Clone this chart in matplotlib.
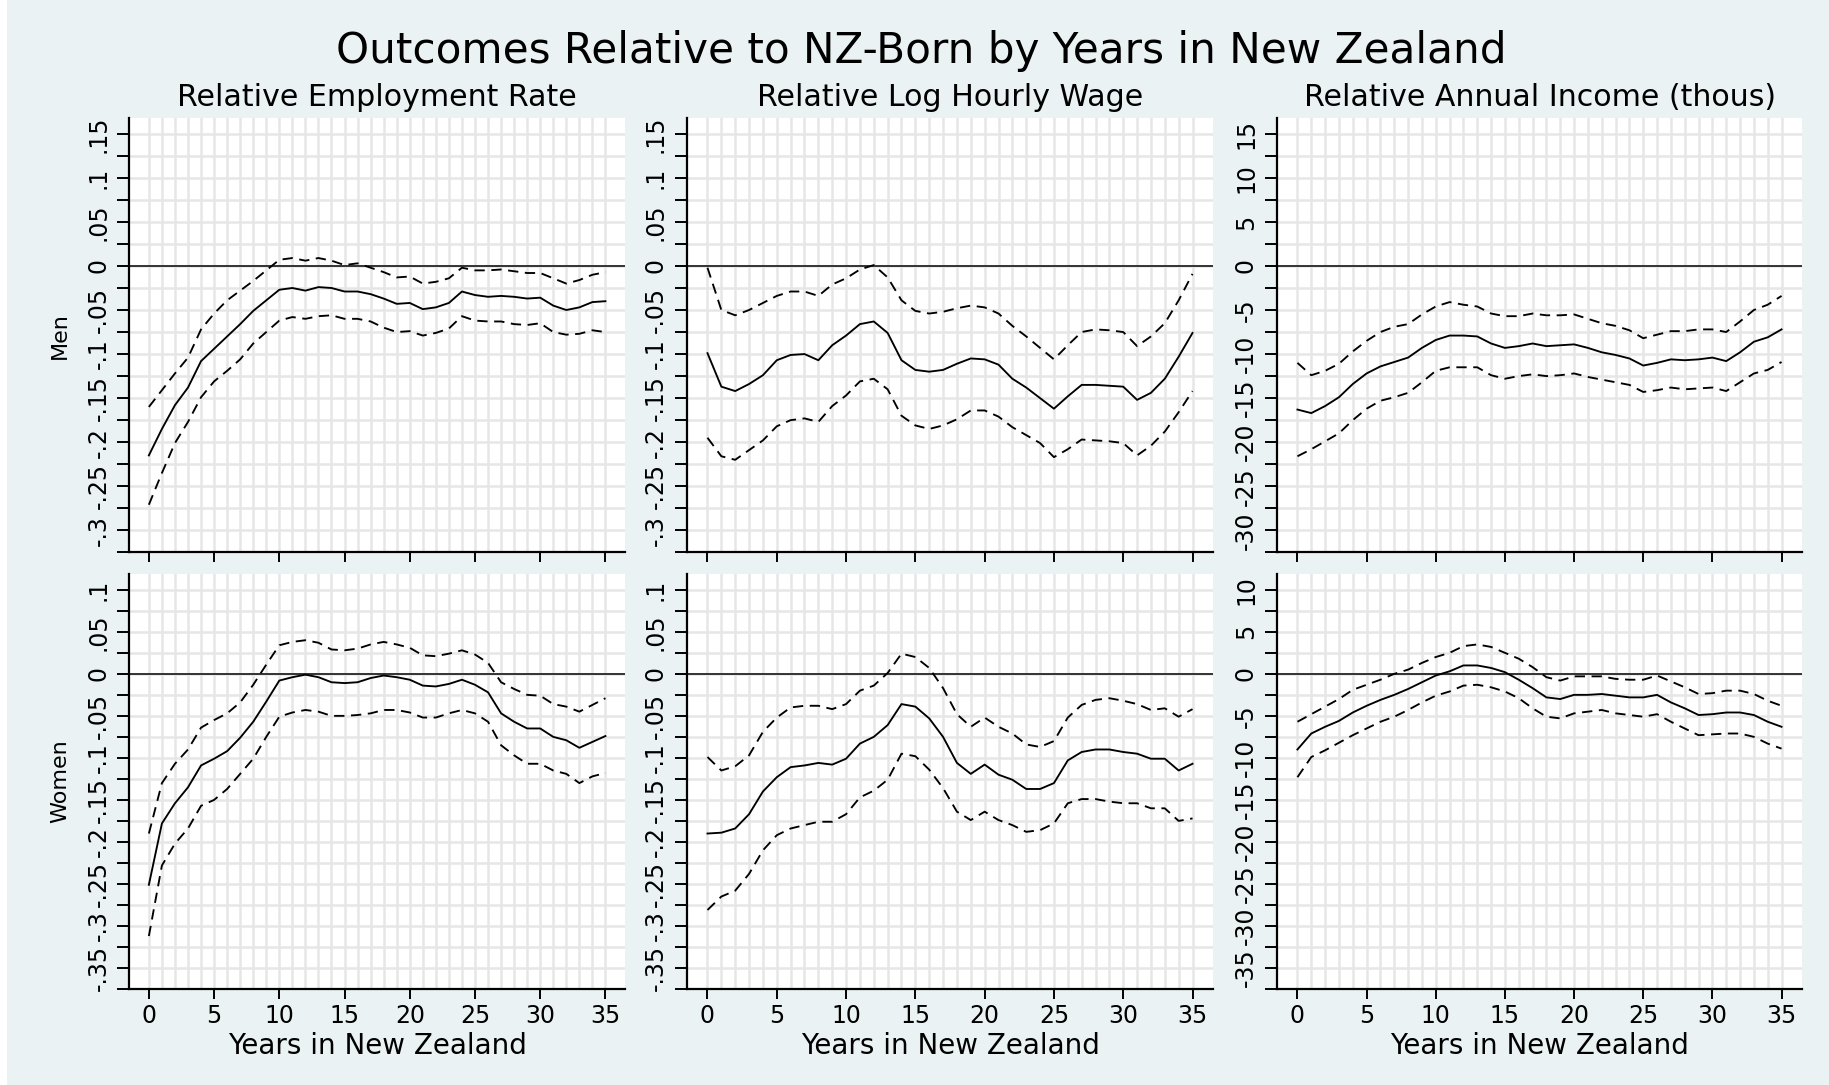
import matplotlib
matplotlib.use("Agg")
import matplotlib.pyplot as plt
from matplotlib.patches import Rectangle
import numpy as np

# ---------------- data ----------------
years = list(range(36))

men_emp = [-0.215, -0.185, -0.158, -0.138, -0.108, -0.094, -0.080, -0.066, -0.051, -0.039,
           -0.027, -0.025, -0.028, -0.024, -0.025, -0.029, -0.029, -0.032, -0.037, -0.043,
           -0.042, -0.049, -0.047, -0.042, -0.029, -0.033, -0.035, -0.034, -0.035, -0.037,
           -0.036, -0.045, -0.050, -0.047, -0.041, -0.040]
men_emp_hi = [-0.160, -0.141, -0.122, -0.104, -0.072, -0.054, -0.039, -0.028, -0.017, -0.005,
              0.007, 0.009, 0.006, 0.009, 0.006, 0.001, 0.003, -0.002, -0.007, -0.013,
              -0.012, -0.020, -0.018, -0.014, -0.002, -0.005, -0.005, -0.004, -0.006, -0.008,
              -0.008, -0.014, -0.020, -0.016, -0.010, -0.007]
men_emp_lo = [-0.271, -0.235, -0.201, -0.177, -0.149, -0.131, -0.119, -0.106, -0.088, -0.075,
              -0.062, -0.058, -0.060, -0.057, -0.056, -0.060, -0.060, -0.063, -0.070, -0.075,
              -0.074, -0.079, -0.076, -0.071, -0.057, -0.062, -0.063, -0.063, -0.066, -0.067,
              -0.065, -0.075, -0.078, -0.077, -0.073, -0.075]

men_wage = [-0.099, -0.137, -0.142, -0.134, -0.124, -0.107, -0.101, -0.100, -0.107, -0.090,
            -0.079, -0.066, -0.063, -0.076, -0.107, -0.118, -0.120, -0.118, -0.111, -0.105,
            -0.106, -0.112, -0.128, -0.138, -0.150, -0.162, -0.148, -0.135, -0.135, -0.136,
            -0.137, -0.152, -0.144, -0.128, -0.103, -0.076]
men_wage_hi = [-0.002, -0.050, -0.056, -0.050, -0.042, -0.034, -0.029, -0.029, -0.034, -0.021,
               -0.014, -0.004, 0.001, -0.013, -0.039, -0.051, -0.054, -0.052, -0.048, -0.045,
               -0.047, -0.054, -0.068, -0.080, -0.093, -0.106, -0.090, -0.075, -0.072, -0.073,
               -0.075, -0.091, -0.080, -0.065, -0.039, -0.009]
men_wage_lo = [-0.195, -0.216, -0.220, -0.209, -0.198, -0.182, -0.175, -0.173, -0.177, -0.159,
               -0.147, -0.131, -0.128, -0.140, -0.170, -0.181, -0.185, -0.181, -0.174, -0.164,
               -0.164, -0.171, -0.183, -0.192, -0.201, -0.217, -0.208, -0.197, -0.198, -0.199,
               -0.201, -0.215, -0.204, -0.188, -0.166, -0.142]

men_inc = [-16.3, -16.7, -15.9, -14.9, -13.4, -12.2, -11.4, -10.9, -10.4, -9.3,
           -8.4, -7.9, -7.9, -8.0, -8.8, -9.3, -9.1, -8.8, -9.1, -9.0,
           -8.9, -9.3, -9.8, -10.1, -10.5, -11.3, -11.0, -10.6, -10.7, -10.6,
           -10.4, -10.8, -9.8, -8.6, -8.1, -7.2]
men_inc_hi = [-11.0, -12.4, -11.9, -11.1, -9.7, -8.5, -7.5, -6.9, -6.6, -5.5,
              -4.6, -4.1, -4.4, -4.6, -5.4, -5.7, -5.7, -5.4, -5.6, -5.6,
              -5.5, -6.0, -6.5, -6.8, -7.3, -8.2, -7.8, -7.4, -7.4, -7.2,
              -7.2, -7.5, -6.3, -5.0, -4.4, -3.4]
men_inc_lo = [-21.6, -20.8, -19.9, -19.0, -17.5, -16.2, -15.3, -14.9, -14.4, -13.2,
              -11.9, -11.5, -11.5, -11.5, -12.4, -12.8, -12.5, -12.3, -12.5, -12.4,
              -12.2, -12.6, -12.9, -13.2, -13.5, -14.3, -14.1, -13.8, -14.0, -13.9,
              -13.8, -14.2, -13.2, -12.2, -11.8, -10.9]

wom_emp = [-0.251, -0.178, -0.154, -0.135, -0.109, -0.101, -0.092, -0.076, -0.057, -0.033,
           -0.008, -0.004, -0.001, -0.004, -0.010, -0.011, -0.010, -0.005, -0.002, -0.004,
           -0.007, -0.014, -0.015, -0.012, -0.007, -0.013, -0.022, -0.047, -0.057, -0.065,
           -0.065, -0.075, -0.079, -0.088, -0.081, -0.074]
wom_emp_hi = [-0.190, -0.130, -0.107, -0.090, -0.064, -0.055, -0.047, -0.034, -0.013, 0.011,
              0.034, 0.038, 0.040, 0.037, 0.029, 0.028, 0.030, 0.035, 0.038, 0.035,
              0.031, 0.022, 0.021, 0.024, 0.028, 0.023, 0.013, -0.010, -0.018, -0.025,
              -0.026, -0.036, -0.039, -0.045, -0.037, -0.029]
wom_emp_lo = [-0.312, -0.228, -0.202, -0.184, -0.157, -0.150, -0.137, -0.119, -0.101, -0.075,
              -0.051, -0.046, -0.043, -0.045, -0.050, -0.050, -0.049, -0.047, -0.043, -0.043,
              -0.046, -0.052, -0.052, -0.047, -0.043, -0.047, -0.057, -0.085, -0.097, -0.107,
              -0.107, -0.115, -0.119, -0.130, -0.122, -0.118]

wom_wage = [-0.190, -0.189, -0.184, -0.167, -0.140, -0.123, -0.111, -0.109, -0.106, -0.108,
            -0.101, -0.083, -0.075, -0.061, -0.036, -0.039, -0.053, -0.075, -0.106, -0.119,
            -0.108, -0.120, -0.126, -0.137, -0.137, -0.130, -0.103, -0.093, -0.090, -0.090,
            -0.093, -0.095, -0.101, -0.101, -0.115, -0.107]
wom_wage_hi = [-0.099, -0.115, -0.110, -0.097, -0.069, -0.052, -0.040, -0.038, -0.038, -0.042,
               -0.036, -0.020, -0.014, 0.001, 0.024, 0.020, 0.007, -0.017, -0.048, -0.063,
               -0.052, -0.063, -0.071, -0.084, -0.087, -0.080, -0.052, -0.037, -0.031, -0.029,
               -0.032, -0.036, -0.043, -0.041, -0.051, -0.042]
wom_wage_lo = [-0.281, -0.265, -0.258, -0.238, -0.210, -0.192, -0.184, -0.180, -0.176, -0.176,
               -0.167, -0.147, -0.139, -0.126, -0.095, -0.098, -0.114, -0.136, -0.164, -0.174,
               -0.164, -0.174, -0.180, -0.188, -0.186, -0.178, -0.154, -0.149, -0.149, -0.152,
               -0.154, -0.154, -0.160, -0.160, -0.175, -0.172]

wom_inc = [-9.0, -7.1, -6.3, -5.6, -4.6, -3.8, -3.1, -2.5, -1.8, -1.0,
           -0.2, 0.3, 1.0, 1.0, 0.7, 0.2, -0.7, -1.7, -2.8, -3.0,
           -2.5, -2.5, -2.4, -2.6, -2.8, -2.8, -2.5, -3.4, -4.1, -4.9,
           -4.8, -4.6, -4.6, -4.9, -5.7, -6.3]
wom_inc_hi = [-5.7, -4.8, -3.9, -3.0, -1.9, -1.3, -0.7, 0.0, 0.5, 1.3,
              2.0, 2.5, 3.3, 3.5, 3.2, 2.5, 1.8, 0.8, -0.4, -0.8,
              -0.3, -0.3, -0.3, -0.6, -0.7, -0.7, -0.2, -0.9, -1.6, -2.4,
              -2.3, -2.0, -2.0, -2.4, -3.2, -3.8]
wom_inc_lo = [-12.3, -9.9, -9.1, -8.2, -7.3, -6.5, -5.7, -5.1, -4.3, -3.4,
              -2.6, -2.1, -1.4, -1.3, -1.6, -2.1, -2.9, -4.1, -5.1, -5.3,
              -4.7, -4.5, -4.3, -4.7, -4.9, -5.1, -4.8, -5.7, -6.5, -7.3,
              -7.2, -7.1, -7.1, -7.5, -8.3, -8.9]

# tick values and labels
x_ticks = [0, 5, 10, 15, 20, 25, 30, 35]
rate_top_ticks = [0.15, 0.1, 0.05, 0, -0.05, -0.1, -0.15, -0.2, -0.25, -0.3]
rate_top_labels = [".15", ".1", ".05", "0", "-.05", "-.1", "-.15", "-.2", "-.25", "-.3"]
rate_bot_ticks = [0.1, 0.05, 0, -0.05, -0.1, -0.15, -0.2, -0.25, -0.3, -0.35]
rate_bot_labels = [".1", ".05", "0", "-.05", "-.1", "-.15", "-.2", "-.25", "-.3", "-.35"]
inc_top_ticks = [15, 10, 5, 0, -5, -10, -15, -20, -25, -30]
inc_top_labels = ["15", "10", "5", "0", "-5", "-10", "-15", "-20", "-25", "-30"]
inc_bot_ticks = [10, 5, 0, -5, -10, -15, -20, -25, -30, -35]
inc_bot_labels = ["10", "5", "0", "-5", "-10", "-15", "-20", "-25", "-30", "-35"]

titles = ["Relative Employment Rate", "Relative Log Hourly Wage", "Relative Annual Income (thous)"]
row_labels = ["Men", "Women"]
main_title = "Outcomes Relative to NZ-Born by Years in New Zealand"
x_label = "Years in New Zealand"

# ---------------- layout ----------------
W, H = 1829, 1085
BG = "#EAF2F3"
GRID = "#E6E6E6"
plt.rcParams["font.family"] = ["DejaVu Sans"]

fig = plt.figure(figsize=(W / 100, H / 100), dpi=100)
fig.patch.set_facecolor("white")
fig.patches.append(Rectangle((7 / W, 0), 1 - 7 / W, 1, transform=fig.transFigure,
                             facecolor=BG, edgecolor="none", zorder=-10))

cols = [(129.3, 625.0), (686.7, 1213.3), (1276.7, 1802.3)]
rows = [(118.3, 552.3), (574.0, 989.0)]


def rect(l, t, r, b):
    return [l / W, 1 - b / H, (r - l) / W, (b - t) / H]


series = [
    [(men_emp, men_emp_hi, men_emp_lo), (men_wage, men_wage_hi, men_wage_lo), (men_inc, men_inc_hi, men_inc_lo)],
    [(wom_emp, wom_emp_hi, wom_emp_lo), (wom_wage, wom_wage_hi, wom_wage_lo), (wom_inc, wom_inc_hi, wom_inc_lo)],
]
yt = [
    [(rate_top_ticks, rate_top_labels)] * 2 + [(inc_top_ticks, inc_top_labels)],
    [(rate_bot_ticks, rate_bot_labels)] * 2 + [(inc_bot_ticks, inc_bot_labels)],
]
ylims_rate = [(-0.318, 0.1676), (-0.3692, 0.1188)]

for r in range(2):
    for c in range(3):
        l, rr = cols[c]
        t, b = rows[r]
        ax = fig.add_axes(rect(l, t, rr, b))
        ax.set_facecolor("white")
        est, hi, lo = series[r][c]
        scale = 100 if c == 2 else 1
        ax.axhline(0, color="#333333", lw=1.4, zorder=2)
        ax.plot(years, hi, color="black", lw=1.35, ls=(0, (5.5, 3.5)), zorder=3)
        ax.plot(years, lo, color="black", lw=1.35, ls=(0, (5.5, 3.5)), zorder=3)
        ax.plot(years, est, color="black", lw=1.35, zorder=3)
        ax.set_xlim(-1.5, 36.5)
        ylo, yhi = ylims_rate[r]
        ax.set_ylim(ylo * scale, yhi * scale)

        ticks, labels = yt[r][c]
        ax.set_yticks(ticks)
        ax.set_yticklabels(labels)
        step = (ticks[0] - ticks[1]) / 2
        ax.set_yticks([v - step for v in ticks], minor=True)
        ax.set_xticks(x_ticks)
        ax.set_xticks(years, minor=True)
        if r == 1:
            ax.set_xticklabels([str(v) for v in x_ticks])
        else:
            ax.set_xticklabels([])

        ax.grid(which="both", color=GRID, lw=1.8, zorder=0)
        ax.set_axisbelow(True)
        for s in ["top", "right"]:
            ax.spines[s].set_visible(False)
        for s in ["left", "bottom"]:
            ax.spines[s].set_linewidth(1.6)
            ax.spines[s].set_color("black")
        ax.tick_params(axis="y", which="both", length=9, width=1.4, color="black",
                       direction="out", pad=4.5, labelsize=17, labelrotation=90)
        ax.tick_params(axis="x", which="major", length=7.5, width=1.4, color="black",
                       direction="out", pad=3.6, labelsize=17)
        ax.tick_params(axis="x", which="minor", length=0)
        for lab in ax.get_yticklabels():
            lab.set_va("center")

        if r == 0:
            fig.text((l + rr) / 2 / W, 1 - 98 / H, titles[c], ha="center", va="center",
                     fontsize=21.6)
        else:
            fig.text((l + rr) / 2 / W, 1 - 1046 / H, x_label, ha="center", va="center",
                     fontsize=20)

for r in range(2):
    t, b = rows[r]
    fig.text(60 / W, 1 - (t + b) / 2 / H, row_labels[r], rotation=90, ha="center",
             va="center", fontsize=16)

fig.text(921 / W, 1 - 51 / H, main_title, ha="center", va="center", fontsize=30.3)

fig.savefig("out.png", dpi=100, facecolor=fig.get_facecolor())
